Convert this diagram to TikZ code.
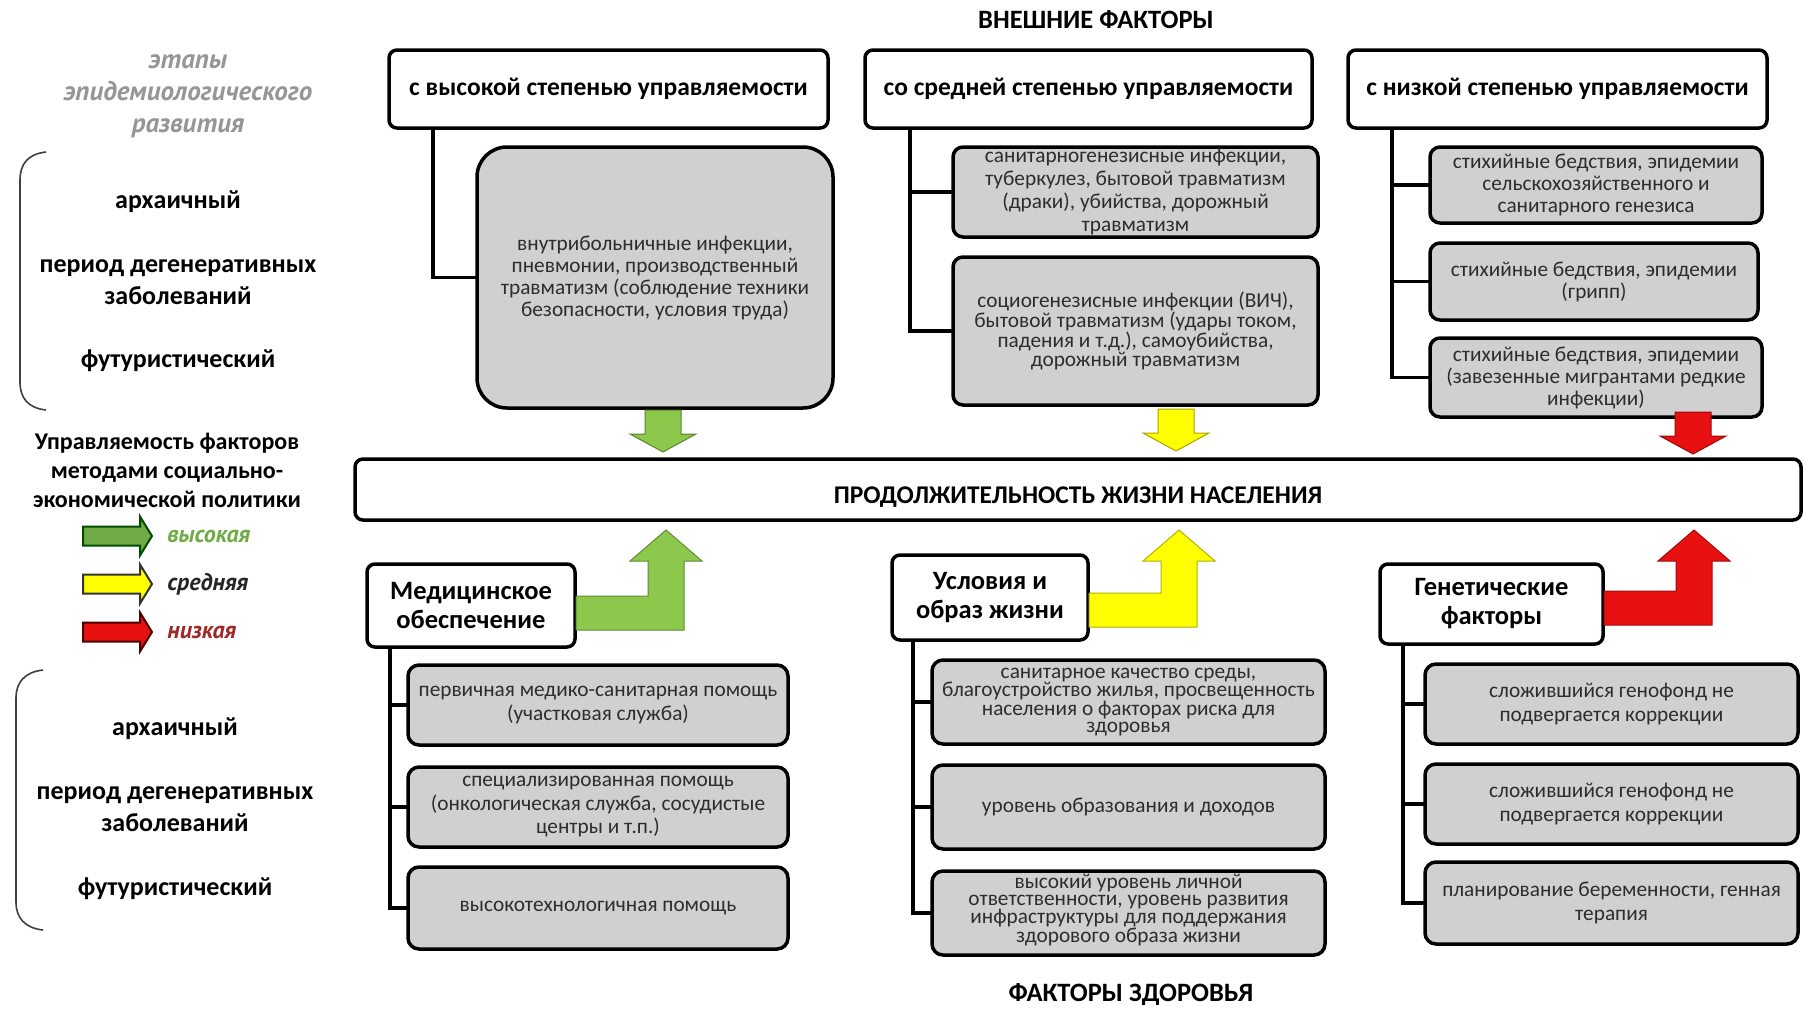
\documentclass[tikz,border=0pt]{standalone}
\usepackage{fontspec}
\setmainfont{Carlito}
\newfontfamily\ptsans{PT Sans}
\usetikzlibrary{calc}
\definecolor{boxgray}{RGB}{208,208,208}
\definecolor{boxtext}{RGB}{45,45,45}
\definecolor{stagegray}{RGB}{150,150,150}
\definecolor{agreen}{RGB}{140,200,75}
\definecolor{ayellow}{RGB}{255,255,0}
\definecolor{ared}{RGB}{232,16,16}
\definecolor{lgreen}{RGB}{112,170,70}
\definecolor{lred}{RGB}{160,40,40}
\newcommand\downarr[3]{% centre x, top y, colour
  \filldraw[fill=#3, draw=#3!65!black, line width=1pt]
    (#1-18,#2) -- (#1+18,#2) -- (#1+18,#2+24) -- (#1+33,#2+24) -- (#1,#2+42)
    -- (#1-33,#2+24) -- (#1-18,#2+24) -- cycle;}
\newcommand\bentarr[4]{% start x, band top y, tip x, colour
  \filldraw[fill=#4, draw=#4!70!black, line width=1pt]
    (#1,#2) -- (#3-18,#2) -- (#3-18,561) -- (#3-36,561) -- (#3,530)
    -- (#3+36,561) -- (#3+18,561) -- (#3+18,#2+34) -- (#1,#2+34) -- cycle;}
\newcommand\legarr[3]{% centre y, fill, outline
  \filldraw[fill=#2, draw=#3, line width=2pt]
    (83,#1-9.5) -- (140,#1-9.5) -- (140,#1-19.5) -- (152,#1) -- (140,#1+19.5)
    -- (140,#1+9.5) -- (83,#1+9.5) -- cycle;}
\begin{document}
\begin{tikzpicture}[x=1pt,y=-1pt,
  every node/.style={outer sep=0pt},
  titlebox/.style={draw, line width=3.5pt, rounded corners=8pt, fill=white,
    align=center, inner sep=0pt, font=\bfseries\fontsize{25.5}{30}\selectfont},
  graybox/.style={draw, line width=3.5pt, rounded corners=10pt, fill=boxgray,
    align=center, inner sep=0pt, text=boxtext, font=\fontsize{21.3}{22}\selectfont},
  lowbox/.style={graybox, rounded corners=11pt, font=\fontsize{21.3}{23.5}\selectfont},
  tightbox/.style={graybox, font=\fontsize{21.3}{17}\selectfont},
  factorbox/.style={titlebox, font=\bfseries\fontsize{26.5}{29}\selectfont},
  conn/.style={line width=3.5pt},
  lefttext/.style={font=\bfseries\fontsize{26}{32}\selectfont, align=center},
  stagehead/.style={font=\ptsans\bfseries\itshape\fontsize{27}{32}\selectfont,
    text=stagegray, align=center},
  legtitle/.style={font=\bfseries\fontsize{24}{29}\selectfont, align=center},
  legtext/.style={font=\ptsans\bfseries\itshape\fontsize{24}{28}\selectfont, anchor=west},
  header/.style={font=\bfseries\fontsize{26.5}{30}\selectfont}
]
\useasboundingbox (0,0) rectangle (1803,1010);
\fill[white] (0,0) rectangle (1803,1010);

% headers
\node[header] (hext) at (1096,20) {ВНЕШНИЕ ФАКТОРЫ};
\node[header] (hhealth) at (1131,995) {ФАКТОРЫ ЗДОРОВЬЯ};

% top title boxes
\node[titlebox, minimum width=439, minimum height=78] (t1) at (608.5,89) {с высокой степенью управляемости};
\node[titlebox, minimum width=447, minimum height=78] (t2) at (1088.5,89) {со средней степенью управляемости};
\node[titlebox, minimum width=419, minimum height=78] (t3) at (1557.5,89) {с низкой степенью управляемости};

% top gray boxes
\node[graybox, rounded corners=30pt, minimum width=356, minimum height=261] (g1) at (655,277.5)
  {внутрибольничные инфекции,\\пневмонии, производственный\\травматизм (соблюдение техники\\безопасности, условия труда)};
\node[graybox, font=\fontsize{21.3}{23}\selectfont, minimum width=365, minimum height=90] (g2a) at (1135.5,192)
  {санитарногенезисные инфекции,\\туберкулез, бытовой травматизм\\(драки), убийства, дорожный\\травматизм};
\node[tightbox, minimum width=365, minimum height=148] (g2b) at (1135.5,331)
  {социогенезисные инфекции (ВИЧ),\\бытовой травматизм (удары током,\\падения и т.д.), самоубийства,\\дорожный травматизм};
\node[graybox, minimum width=332, minimum height=76] (r1) at (1596,185)
  {стихийные бедствия, эпидемии\\сельскохозяйственного и\\санитарного генезиса};
\node[graybox, minimum width=328, minimum height=77] (r2) at (1594,281.5)
  {стихийные бедствия, эпидемии\\(грипп)};
\node[graybox, minimum width=332, minimum height=79] (r3) at (1596,377.5)
  {стихийные бедствия, эпидемии\\(завезенные мигрантами редкие\\инфекции)};

% connectors top
\draw[conn] ($(t1.south west)+(44,0)$) |- (g1.west);
\draw[conn] ($(t2.south west)+(45,0)$) |- (g2a.west);
\draw[conn] ($(t2.south west)+(45,0)$) |- (g2b.west);
\draw[conn] ($(t3.south west)+(44,0)$) |- (r1.west);
\draw[conn] ($(t3.south west)+(44,0)$) |- (r2.west);
\draw[conn] ($(t3.south west)+(44,0)$) |- (r3.west);

% down arrows
\downarr{663}{410}{agreen}
\downarr{1176}{409}{ayellow}
\downarr{1693}{412}{ared}

% central box
\node[titlebox, text height=27pt, text depth=0pt, minimum width=1446, minimum height=61] (life) at (1078,489.5)
  {ПРОДОЛЖИТЕЛЬНОСТЬ ЖИЗНИ НАСЕЛЕНИЯ};

% factor boxes
\node[factorbox, minimum width=208, minimum height=83] (m0) at (471,605.5) {Медицинское\\обеспечение};
\node[factorbox, minimum width=196, minimum height=85] (u0) at (990,597.5) {Условия и\\образ жизни};
\node[factorbox, minimum width=223, minimum height=80] (e0) at (1491.5,604) {Генетические\\факторы};

% bent arrows
\bentarr{576}{596}{666}{agreen}
\bentarr{1089}{593}{1179}{ayellow}
\bentarr{1604}{591}{1694}{ared}

% bottom gray boxes
\node[lowbox, minimum width=380, minimum height=80] (b1) at (598,705)
  {первичная медико-санитарная помощь\\(участковая служба)};
\node[lowbox, minimum width=380, minimum height=80] (b2) at (598,807)
  {специализированная помощь\\(онкологическая служба, сосудистые\\центры и т.п.)};
\node[lowbox, minimum width=380, minimum height=82] (b3) at (598,908)
  {высокотехнологичная помощь};

\node[tightbox, rounded corners=11pt, minimum width=393, minimum height=84] (u1) at (1128.5,702)
  {санитарное качество среды,\\благоустройство жилья, просвещенность\\населения о факторах риска для\\здоровья};
\node[lowbox, minimum width=393, minimum height=84] (u2) at (1128.5,807)
  {уровень образования и доходов};
\node[tightbox, rounded corners=11pt, minimum width=393, minimum height=84] (u3) at (1128.5,913)
  {\raisebox{4pt}{}высокий уровень личной\\ответственности, уровень развития\\инфраструктуры для поддержания\\здорового образа жизни\vspace{6pt}};

\node[lowbox, minimum width=373, minimum height=80] (e1) at (1611.5,704)
  {сложившийся генофонд не\\подвергается коррекции};
\node[lowbox, minimum width=373, minimum height=80] (e2) at (1611.5,804)
  {сложившийся генофонд не\\подвергается коррекции};
\node[lowbox, minimum width=373, minimum height=82] (e3) at (1611.5,903)
  {планирование беременности, генная\\терапия};

% connectors bottom
\draw[conn] ($(m0.south west)+(23,0)$) |- (b1.west);
\draw[conn] ($(m0.south west)+(23,0)$) |- (b2.west);
\draw[conn] ($(m0.south west)+(23,0)$) |- (b3.west);
\draw[conn] ($(u0.south west)+(21,0)$) |- (u1.west);
\draw[conn] ($(u0.south west)+(21,0)$) |- (u2.west);
\draw[conn] ($(u0.south west)+(21,0)$) |- (u3.west);
\draw[conn] ($(e0.south west)+(23,0)$) |- (e1.west);
\draw[conn] ($(e0.south west)+(23,0)$) |- (e2.west);
\draw[conn] ($(e0.south west)+(23,0)$) |- (e3.west);

% left column
\node[stagehead] (stage) at (188,96) {этапы\\эпидемиологического\\развития};
\draw[line width=1.6pt, draw=black!75] (46,152) .. controls (28,154) and (20,164) .. (20,180)
  -- (20,382) .. controls (20,398) and (28,408) .. (46,410);
\node[lefttext] (a1) at (178,202) {архаичный};
\node[lefttext] (p1) at (178,282) {период дегенеративных\\заболеваний};
\node[lefttext] (f1) at (178,361) {футуристический};

\node[legtitle] (legt) at (167,470) {Управляемость факторов\\методами социально-\\экономической политики};
\legarr{536}{lgreen}{black!70!green}
\legarr{584}{ayellow}{black!80}
\legarr{632}{ared}{black!70!red}
\node[legtext, text=lgreen] (lg) at (164,536) {высокая};
\node[legtext, text=black!85] (ly) at (164,584) {средняя};
\node[legtext, text=lred] (lr) at (164,632) {низкая};

\draw[line width=1.6pt, draw=black!75] (43,670) .. controls (25,672) and (16,682) .. (16,698)
  -- (16,902) .. controls (16,918) and (25,928) .. (43,930);
\node[lefttext] (a2) at (175,729) {архаичный};
\node[lefttext] (p2) at (175,809.5) {период дегенеративных\\заболеваний};
\node[lefttext] (f2) at (175,889) {футуристический};
\end{tikzpicture}
\end{document}
